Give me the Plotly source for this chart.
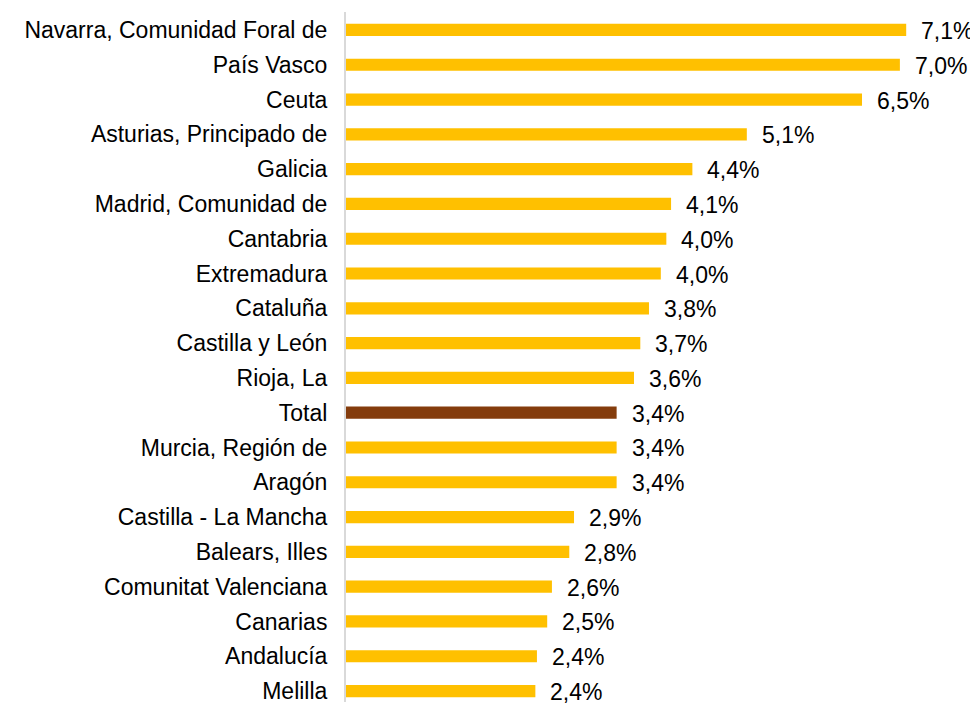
import plotly.graph_objects as go

regions = ["Navarra, Comunidad Foral de", "País Vasco", "Ceuta", "Asturias, Principado de",
           "Galicia", "Madrid, Comunidad de", "Cantabria", "Extremadura", "Cataluña",
           "Castilla y León", "Rioja, La", "Total", "Murcia, Región de", "Aragón",
           "Castilla - La Mancha", "Balears, Illes", "Comunitat Valenciana", "Canarias",
           "Andalucía", "Melilla"]
values = [7.10, 7.02, 6.54, 5.08, 4.39, 4.12, 4.06, 3.99, 3.84, 3.73, 3.65, 3.43, 3.43, 3.43,
          2.89, 2.83, 2.61, 2.55, 2.42, 2.40]
labels = ["7,1%", "7,0%", "6,5%", "5,1%", "4,4%", "4,1%", "4,0%", "4,0%", "3,8%", "3,7%",
          "3,6%", "3,4%", "3,4%", "3,4%", "2,9%", "2,8%", "2,6%", "2,5%", "2,4%", "2,4%"]

regions_r = regions[::-1]
values_r = values[::-1]
labels_r = labels[::-1]
colors = ["#843C0C" if r == "Total" else "#FFC000" for r in regions_r]

FONT = "Liberation Sans, Arial"
FS = 23

fig = go.Figure(go.Bar(
    x=values_r, y=regions_r, orientation="h",
    marker=dict(color=colors, line=dict(width=0)),
    width=0.35,
))

for r, v, t in zip(regions_r, values_r, labels_r):
    fig.add_annotation(x=v, y=r, text=t, showarrow=False, xanchor="left",
                       xshift=13, yshift=-1,
                       font=dict(family=FONT, size=FS, color="#000000"))

# page body has an 8px margin; size and offsets compensate for it
fig.update_layout(
    width=970, height=696,
    margin=dict(l=338, r=0, t=4, b=0),
    paper_bgcolor="white", plot_bgcolor="white",
    showlegend=False,
    font=dict(family=FONT, size=FS, color="#000000"),
    xaxis=dict(range=[0, 8.01], visible=False, showgrid=False, zeroline=False),
    yaxis=dict(type="category", categoryorder="array", categoryarray=regions_r,
               range=[-0.315, 19.516], showgrid=False, zeroline=False,
               showline=True, linecolor="#D9D9D9", linewidth=2,
               ticks="", ticklabelstandoff=12,
               tickfont=dict(family=FONT, size=FS, color="#000000")),
)

fig.write_html("out.html")
